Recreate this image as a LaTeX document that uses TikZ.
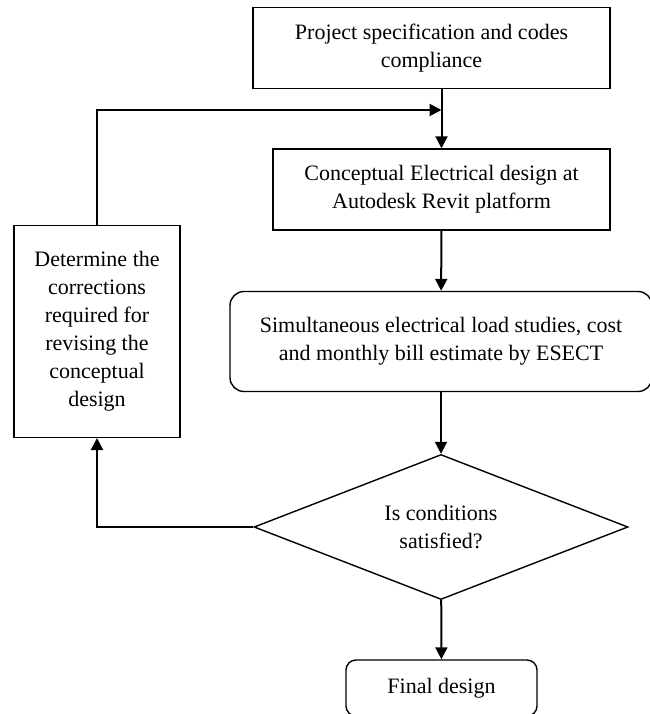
\documentclass[tikz,border=0pt]{standalone}
\usepackage{fontspec}
\setmainfont{Liberation Serif}
\usepackage{tikz}
\usetikzlibrary{calc}
\usetikzlibrary{shapes.geometric}
\usetikzlibrary{arrows.meta}

\begin{document}
\begin{tikzpicture}[x=1pt, y=-1pt]

    \pgfmathsetmacro{\midx}{441.5}

    % Looks of the boxes and of the lines between them
    \tikzset{
        stepbox/.style={draw, line width=1.4pt, align=center, inner sep=0pt,
            font=\fontsize{22}{28}\selectfont},
        roundbox/.style={stepbox, rounded corners=14pt},
        decision/.style={stepbox, diamond, shape aspect=2.6},
        flow/.style={line width=2pt, -{Triangle[length=12pt, width=12pt]}}
    }

    \useasboundingbox (0, 0) rectangle (649, 714);

    % Main column, top to bottom
    \begin{scope}
        \node[stepbox, minimum width=357pt, minimum height=81pt]
            (spec) at (431.5, 47.8) {Project specification and codes\\compliance};
        \node[stepbox, minimum width=337pt, minimum height=81pt]
            (concept) at (\midx, 189.5) {Conceptual Electrical design at\\Autodesk Revit platform};
        \node[roundbox, minimum width=422pt, minimum height=100pt]
            (loads) at (441, 341.5) {Simultaneous electrical load studies, cost\\and monthly bill estimate by ESECT};
        \node[decision, minimum width=374pt, minimum height=145pt]
            (check) at (441, 527) {Is conditions\\satisfied?};
        \node[roundbox, rounded corners=10pt, minimum width=191pt, minimum height=56pt]
            (final) at (\midx, 688) {Final design};
    \end{scope}

    % Side branch taken when the check fails
    \begin{scope}
        \node[stepbox, minimum width=166pt, minimum height=211.6pt]
            (fix) at (97, 331.5) {Determine the\\corrections\\required for\\revising the\\conceptual\\design};
        \coordinate (merge) at (\midx, 110);
    \end{scope}

    \begin{scope}
        \draw[flow] (spec.south -| concept.north) -- (concept.north);
        \draw[flow] (concept) -- (loads);
        \draw[flow] (loads) -- (check);
        \draw[flow] (check) -- (final);
        % back to the top of the design loop
        \draw[flow] (check.west) -| (fix.south);
        \draw[flow] (fix.north) |- (merge);
    \end{scope}

\end{tikzpicture}
\end{document}
